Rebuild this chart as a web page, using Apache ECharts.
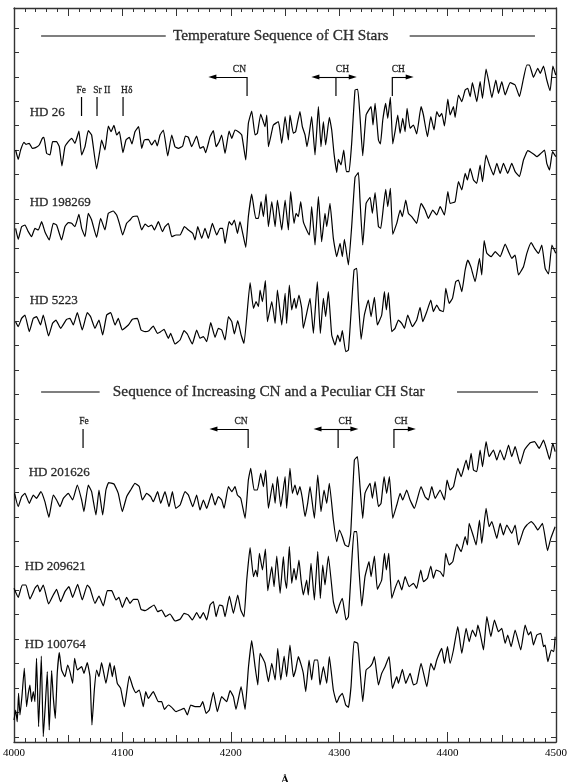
<!DOCTYPE html>
<html><head><meta charset="utf-8">
<style>html,body{margin:0;padding:0;background:#fff}#c{width:570px;height:782px}</style>
<script src="https://cdn.jsdelivr.net/npm/echarts@6/dist/echarts.min.js"></script>
</head><body><div id="c"></div>
<script>
// Each spectrum: [wavelength in angstrom, relative flux (stacked, arbitrary units)]
const hd26 = [[4001.5,1776],[4003.9,1748],[4006.1,1776],[4009.2,1799],[4011,1793],[4014.1,1796],[4016.8,1781],[4019.9,1783],[4023.3,1791],[4026.1,1811],[4027.6,1814],[4030.1,1766],[4033.2,1761],[4035.6,1801],[4039.3,1801],[4041.8,1786],[4044.2,1728],[4047,1786],[4050.1,1801],[4053.2,1811],[4056.2,1796],[4059.9,1833],[4062.4,1761],[4065.5,1786],[4068.5,1834],[4071.6,1821],[4076.2,1719],[4079.3,1776],[4080.8,1806],[4083.9,1776],[4087,1848],[4089.5,1831],[4092.2,1850],[4094.7,1821],[4097.2,1831],[4100.5,1768],[4103.3,1806],[4106.4,1814],[4108.8,1794],[4111.6,1831],[4115,1846],[4117.8,1781],[4120.2,1806],[4123.9,1808],[4127,1791],[4130.1,1806],[4132.2,1788],[4134.7,1821],[4137.8,1836],[4141.8,1758],[4145.5,1821],[4148.5,1786],[4151.6,1781],[4155.6,1788],[4158.1,1818],[4160.9,1814],[4163.9,1786],[4168.5,1818],[4171.6,1781],[4174.7,1786],[4176.8,1768],[4180.9,1816],[4183.9,1834],[4186.4,1786],[4189.2,1801],[4191.6,1821],[4194.7,1766],[4198.4,1833],[4200.9,1811],[4203.9,1836],[4207,1831],[4210.1,1821],[4213.8,1746],[4216.2,1856],[4219.3,1893],[4222.4,1821],[4224.5,1826],[4227.6,1884],[4231.6,1846],[4233.2,1881],[4234.7,1786],[4237.8,1831],[4239.3,1851],[4243.9,1861],[4247,1796],[4250.1,1876],[4253.1,1806],[4254.6,1881],[4257.7,1826],[4259.8,1831],[4261.7,1861],[4263.8,1891],[4266,1846],[4268.5,1821],[4270.3,1786],[4272.2,1821],[4274.6,1876],[4277.7,1761],[4280.8,1906],[4283.2,1786],[4285.4,1861],[4287.5,1791],[4290.9,1874],[4293.1,1836],[4295.2,1766],[4297.7,1709],[4299.2,1748],[4301.7,1731],[4304.2,1776],[4306.6,1711],[4309.1,1711],[4311.5,1796],[4314.6,1956],[4317.1,1958],[4319.2,1876],[4321.7,1759],[4324.8,1881],[4329.4,1906],[4331.2,1851],[4333.1,1916],[4336.2,1806],[4338,1794],[4340.2,1866],[4342.9,1916],[4344.8,1871],[4347.2,1934],[4349.4,1794],[4351.5,1831],[4354,1881],[4356.2,1826],[4358.6,1871],[4360.8,1831],[4362.6,1901],[4365.4,1841],[4368.5,1851],[4371.5,1824],[4375.5,1906],[4377.7,1881],[4381.4,1816],[4384.5,1876],[4387.5,1836],[4390,1891],[4392.5,1876],[4394.6,1886],[4397.1,1848],[4400.2,1929],[4402.3,1881],[4405.4,1906],[4406.9,1874],[4410,1941],[4413.1,1921],[4416.2,1956],[4418.6,1961],[4420.8,1936],[4422.9,1978],[4426.9,1921],[4430,1981],[4432.2,1931],[4435.5,2019],[4438.3,1976],[4440.8,1933],[4444.5,1986],[4446.9,1946],[4450,1981],[4453.1,1941],[4457.7,1978],[4462.3,1971],[4466.3,1936],[4470,1991],[4473.1,2031],[4475.5,2031],[4479.2,1994],[4483.2,2021],[4485.4,2006],[4488.5,2028],[4491.5,1986],[4494.6,1954],[4497.1,2028],[4499.8,2001]];
const hd198269 = [[4001.5,1541],[4003.9,1508],[4007,1546],[4010.1,1551],[4013.2,1531],[4016.2,1516],[4019.3,1541],[4022.4,1536],[4025.5,1561],[4028.5,1531],[4032.5,1506],[4036.2,1556],[4039.3,1551],[4043.9,1506],[4047,1546],[4050.1,1558],[4053.2,1556],[4056.2,1546],[4059.9,1583],[4062.4,1541],[4065.5,1516],[4068.5,1586],[4071.6,1566],[4076.2,1514],[4079.9,1571],[4083.9,1536],[4087,1586],[4091.6,1593],[4094.7,1581],[4097.2,1556],[4100.2,1521],[4103.9,1556],[4107,1566],[4109.5,1576],[4113.8,1578],[4117.8,1536],[4120.9,1554],[4123.9,1546],[4127,1551],[4129.5,1536],[4133.2,1561],[4136.9,1531],[4139.3,1546],[4142.4,1556],[4145.5,1516],[4149.5,1521],[4153.2,1521],[4157.2,1546],[4160.9,1536],[4164.9,1526],[4167,1506],[4169.5,1546],[4173.2,1511],[4176.2,1541],[4179.3,1511],[4183,1556],[4187,1521],[4190.1,1541],[4192.5,1541],[4194.7,1496],[4198.4,1561],[4200.9,1551],[4203.3,1566],[4206.1,1526],[4208.5,1561],[4211,1526],[4213.8,1484],[4216.2,1576],[4219.3,1644],[4223,1571],[4225.5,1571],[4227.9,1621],[4230.1,1576],[4232.5,1644],[4234.7,1546],[4237.8,1621],[4240.9,1546],[4243,1626],[4247,1536],[4250.1,1626],[4253.1,1536],[4255.2,1651],[4258.3,1556],[4260.2,1586],[4262.3,1576],[4264.5,1621],[4266.9,1561],[4270,1536],[4272.5,1521],[4274.6,1606],[4277.7,1491],[4280.8,1636],[4283.8,1501],[4286.9,1586],[4288.5,1546],[4291.5,1616],[4294.6,1511],[4297.7,1456],[4300.8,1496],[4302.9,1456],[4304.8,1508],[4308.5,1431],[4311.5,1546],[4314.6,1694],[4317.7,1708],[4319.2,1626],[4321.7,1491],[4324.8,1616],[4328.5,1634],[4330.6,1586],[4333.1,1648],[4336.2,1546],[4338.3,1541],[4340.8,1606],[4342.9,1658],[4344.8,1606],[4347.2,1661],[4349.4,1523],[4353.1,1556],[4356.2,1596],[4358.3,1576],[4361.4,1626],[4363.8,1586],[4366.9,1576],[4371.5,1556],[4375.5,1616],[4379.2,1596],[4382.3,1571],[4386.3,1596],[4390,1581],[4393.1,1606],[4397.1,1581],[4400.2,1651],[4402.3,1616],[4406.9,1621],[4410,1681],[4413.1,1656],[4416.2,1706],[4418.3,1686],[4420.8,1721],[4423.9,1686],[4426.9,1676],[4430,1731],[4432.2,1681],[4435.5,1761],[4438.6,1731],[4442.3,1701],[4445.4,1736],[4448.5,1706],[4451.5,1736],[4455.5,1706],[4459.2,1736],[4462.3,1711],[4466.3,1696],[4470,1746],[4474,1774],[4479.2,1764],[4482.3,1756],[4485.4,1764],[4489.4,1776],[4491.5,1736],[4494,1716],[4496.8,1771],[4499.8,1756]];
const hd5223 = [[4001.5,1261],[4003.9,1246],[4007,1271],[4010.1,1281],[4014.1,1231],[4017.8,1271],[4020.8,1276],[4024.5,1251],[4027,1281],[4031.9,1218],[4035.6,1256],[4038.7,1266],[4043,1241],[4048.5,1268],[4051.6,1271],[4054.7,1251],[4058.4,1288],[4063,1236],[4067.6,1288],[4070.7,1276],[4074.7,1241],[4078.4,1266],[4081.8,1221],[4085.5,1281],[4089.2,1288],[4093.2,1251],[4096.2,1271],[4099.9,1236],[4105.5,1251],[4109.2,1268],[4113.8,1271],[4117.2,1236],[4120.9,1231],[4124.5,1234],[4128.5,1248],[4132.2,1226],[4135.3,1231],[4138.4,1238],[4142.4,1211],[4144.5,1226],[4148.5,1194],[4153.2,1206],[4156.9,1234],[4159.9,1224],[4164.5,1194],[4168.5,1236],[4171.6,1211],[4174.7,1216],[4177.8,1201],[4181.5,1258],[4185.5,1214],[4188.5,1241],[4191.6,1236],[4194.7,1206],[4197.8,1276],[4200.9,1261],[4203.3,1224],[4206.4,1264],[4209.5,1221],[4212.2,1196],[4217.8,1378],[4220.9,1301],[4223.3,1321],[4225.5,1306],[4227,1356],[4229.2,1321],[4231.9,1384],[4233.8,1261],[4237.8,1321],[4240.9,1256],[4243,1356],[4247,1251],[4250.1,1346],[4251.5,1256],[4254,1371],[4256.2,1296],[4258.6,1331],[4260.2,1301],[4262.9,1341],[4265.4,1301],[4266.9,1241],[4270,1286],[4273.1,1331],[4276.2,1226],[4279.8,1381],[4282.6,1226],[4285.4,1331],[4287.5,1276],[4290,1351],[4293.1,1221],[4296.2,1191],[4298.6,1221],[4300.8,1201],[4302.9,1234],[4306,1171],[4308.5,1176],[4311.5,1316],[4313.7,1416],[4316.2,1421],[4317.7,1326],[4320.2,1208],[4323.2,1281],[4326.9,1326],[4329.4,1276],[4332.5,1334],[4335.2,1251],[4339.2,1281],[4341.7,1351],[4343.5,1296],[4345.4,1348],[4348.5,1231],[4351.5,1241],[4354.6,1266],[4357.7,1256],[4360.2,1241],[4363.2,1281],[4367.5,1246],[4371.5,1266],[4374.6,1304],[4377.1,1261],[4380.8,1291],[4384.5,1326],[4386.9,1291],[4390,1311],[4392.5,1296],[4396.2,1291],[4398.3,1361],[4401.4,1316],[4404.5,1331],[4407.5,1381],[4410,1386],[4413.1,1351],[4416.2,1416],[4418.6,1446],[4421.4,1426],[4425.4,1381],[4429.4,1451],[4431.5,1401],[4433.7,1504],[4436.2,1466],[4440.2,1456],[4443.9,1471],[4448.5,1456],[4453.1,1494],[4456.2,1471],[4459.2,1451],[4462.3,1461],[4465.4,1401],[4470,1426],[4473.1,1466],[4477.1,1498],[4480.2,1481],[4483.9,1466],[4486.9,1491],[4490,1421],[4493.1,1404],[4496.2,1491],[4499.8,1466]];
const hd201626 = [[4000.5,746],[4003.9,706],[4007,736],[4010.1,746],[4014.1,716],[4017.8,741],[4020.8,731],[4024.8,751],[4028.5,721],[4032.2,674],[4036.2,741],[4039.3,726],[4042.4,706],[4045.5,731],[4050.1,746],[4054.1,726],[4058.4,771],[4062.4,726],[4064.5,691],[4068.5,771],[4071.6,751],[4075.6,681],[4078.4,756],[4081.8,681],[4084.8,756],[4087.3,778],[4092.2,774],[4096.2,746],[4099.9,691],[4103.9,736],[4107.6,756],[4111.6,776],[4115.6,766],[4118.4,726],[4122.4,746],[4126.1,736],[4128.5,721],[4132.5,751],[4135.3,716],[4139.3,751],[4143,706],[4146.1,751],[4149.2,701],[4153.2,711],[4157.8,751],[4160.9,741],[4164.9,706],[4168.5,741],[4171.6,696],[4174.7,726],[4177.8,701],[4182.4,746],[4185.5,711],[4188.5,736],[4191.6,726],[4193.8,701],[4197.8,766],[4200.9,751],[4203.9,766],[4206.1,741],[4209.2,731],[4213.2,671],[4216.2,786],[4218.4,821],[4221.5,756],[4224.5,756],[4227.6,806],[4230.1,766],[4232.2,816],[4234.7,701],[4238.7,776],[4240.9,716],[4243,796],[4246.1,706],[4250.1,796],[4251.5,701],[4254.6,821],[4256.8,746],[4259.2,771],[4261.4,741],[4263.8,766],[4266,731],[4268.5,676],[4270.9,716],[4273.1,766],[4277.1,671],[4280.2,801],[4283.2,691],[4286,756],[4288.5,716],[4290.9,776],[4294.6,666],[4297.7,601],[4300.2,636],[4302.9,616],[4305.4,591],[4308.5,586],[4310.6,626],[4314,846],[4316.8,856],[4319.2,766],[4321.7,671],[4323.8,746],[4328.5,776],[4330.6,731],[4333.1,781],[4336.2,706],[4338.6,716],[4341.4,796],[4343.8,746],[4346.3,796],[4349.4,671],[4353.1,711],[4356.2,746],[4358.6,726],[4362.3,756],[4365.4,726],[4369.4,701],[4375.5,766],[4379.2,736],[4382.3,726],[4385.4,766],[4388.5,731],[4393.1,756],[4397.1,726],[4399.5,786],[4402.3,756],[4405.4,766],[4409.4,821],[4412.5,796],[4417.1,846],[4419.2,816],[4421.7,866],[4423.9,816],[4426.9,811],[4430,876],[4432.2,826],[4435.5,901],[4438.3,856],[4442.3,876],[4445.4,846],[4448.5,876],[4452.2,846],[4456.2,891],[4459.2,856],[4462.3,886],[4466.9,834],[4470.9,876],[4476.2,898],[4480.2,901],[4484.5,881],[4488.5,906],[4491.5,876],[4494,848],[4497.1,896],[4499.2,871]];
const hd209621 = [[4000,461],[4003.9,434],[4007.6,471],[4011,471],[4014.7,429],[4019.3,461],[4021.8,471],[4023.9,451],[4027,471],[4031.9,414],[4036.2,441],[4039.3,458],[4043,421],[4047,451],[4050.7,466],[4054.1,434],[4058.7,473],[4063,426],[4067.6,471],[4070.1,461],[4074.7,416],[4078.4,438],[4082.4,408],[4086.1,454],[4090.1,454],[4094.1,426],[4096.8,434],[4099.9,404],[4103.9,434],[4107,416],[4110.1,428],[4114.1,428],[4117.2,398],[4120.9,394],[4124.5,401],[4129.2,411],[4132.5,391],[4136.2,396],[4139.9,376],[4143.9,384],[4148.5,363],[4153.2,368],[4156.9,386],[4160.9,381],[4164.5,366],[4168.5,388],[4171.6,371],[4174.7,388],[4177.8,366],[4180.9,411],[4183.9,421],[4186.4,376],[4189.5,411],[4192.5,408],[4194.7,376],[4198.7,438],[4202.4,386],[4206.4,441],[4209.2,396],[4212.2,376],[4214.7,486],[4217.8,583],[4220.9,496],[4223,516],[4224.5,496],[4226.4,566],[4229.2,516],[4231.9,579],[4234.1,454],[4237.8,526],[4239.9,466],[4242.4,558],[4245.5,446],[4248.5,556],[4250.1,486],[4251.5,461],[4254,586],[4256.2,476],[4258.3,521],[4260.2,486],[4262.9,546],[4264.8,486],[4266.9,441],[4270,486],[4271.5,441],[4274,536],[4277.1,426],[4280.2,571],[4282.6,431],[4284.8,531],[4286.9,471],[4290,558],[4294.6,421],[4297.7,386],[4300.2,411],[4302.9,431],[4306.3,366],[4308.5,376],[4311.5,536],[4313.7,631],[4316.2,631],[4318.3,516],[4320.8,408],[4323.8,496],[4327.5,541],[4329.4,496],[4332.5,558],[4335.2,458],[4339.2,486],[4341.7,566],[4343.5,516],[4345.7,566],[4348.5,431],[4351.5,461],[4354.6,486],[4357.7,456],[4360.8,496],[4364.5,466],[4368.5,476],[4371.5,461],[4375.2,516],[4377.7,481],[4381.4,491],[4384.5,528],[4386.9,491],[4389.4,516],[4393.1,511],[4396.2,496],[4398.3,566],[4401.4,531],[4404.8,541],[4408.5,594],[4412.5,571],[4416.2,616],[4418.3,591],[4419.9,656],[4423.9,616],[4426.3,591],[4429.4,666],[4431.5,596],[4435.5,701],[4438.3,646],[4440.8,661],[4445.4,611],[4448.5,656],[4451.5,621],[4454.6,651],[4459.2,626],[4462.3,651],[4465.4,591],[4470,636],[4473.1,651],[4477.1,661],[4480.2,651],[4483.2,636],[4487.5,656],[4492.2,574],[4495.2,611],[4499.2,646]];
const hd100764 = [[4000,66],[4001.5,96],[4003,61],[4004.2,146],[4005.5,81],[4007.3,136],[4009.5,221],[4011.6,106],[4013.2,146],[4014.7,171],[4016.2,121],[4017.8,151],[4019.3,121],[4020.8,251],[4022.7,46],[4025.2,258],[4027,16],[4028.8,106],[4030.7,211],[4032.5,36],[4034.7,214],[4036.2,136],[4038.1,71],[4039.9,206],[4041.8,268],[4043.9,216],[4047,196],[4049.5,231],[4051.6,211],[4054.1,176],[4055.9,251],[4058.4,216],[4062.4,226],[4064.5,206],[4067.6,238],[4070.1,196],[4071.9,51],[4074.1,156],[4076.2,216],[4078.4,196],[4080.8,238],[4084.8,176],[4088.5,238],[4090.7,196],[4092.5,229],[4095.3,176],[4098.4,161],[4101.8,106],[4106.4,198],[4109.5,166],[4112.5,148],[4115.6,156],[4119.3,106],[4121.5,151],[4123.9,131],[4128.5,151],[4133.2,121],[4136.2,121],[4138.7,98],[4142.4,111],[4145.5,104],[4149.5,91],[4153.2,96],[4156.9,101],[4159.9,81],[4163,111],[4167,106],[4171.6,106],[4174.1,121],[4177.2,86],[4180.2,96],[4183.9,149],[4187.6,91],[4191.6,136],[4196.2,121],[4199.3,154],[4202.4,136],[4204.8,98],[4209.5,166],[4213.2,98],[4216.2,221],[4219.3,304],[4222.4,226],[4224.9,171],[4227,266],[4231.6,236],[4234.7,181],[4237.8,236],[4240.9,186],[4243.3,281],[4246.1,186],[4249.2,258],[4251.5,196],[4254.6,291],[4257.7,196],[4259.8,216],[4262.3,256],[4264.5,236],[4266.9,206],[4269.1,151],[4272.2,246],[4274.6,186],[4277.1,246],[4280.2,246],[4282.3,171],[4285.4,226],[4288.5,176],[4290.9,256],[4294.6,156],[4297.7,118],[4300.2,136],[4302.9,146],[4306,111],[4308.5,104],[4310.9,166],[4313.7,301],[4317.1,296],[4319.2,216],[4321.7,121],[4324.8,216],[4328.5,226],[4330.6,236],[4332.5,256],[4336.2,171],[4339.2,206],[4342.3,226],[4346,256],[4349.1,161],[4353.1,196],[4354.6,176],[4358.3,218],[4361.4,176],[4365.4,206],[4368.5,171],[4371.5,176],[4375.5,236],[4380.8,166],[4384.5,236],[4387.5,216],[4390,246],[4394.6,281],[4397.1,236],[4399.9,286],[4402.3,236],[4405.4,276],[4409.4,346],[4413.1,266],[4417.1,341],[4419.9,301],[4422.9,336],[4426,316],[4427.9,351],[4430,326],[4433.1,276],[4436.2,376],[4439.9,316],[4443.2,366],[4446.9,331],[4450,341],[4453.1,296],[4455.5,321],[4458.6,286],[4462.3,336],[4467.5,276],[4471.5,351],[4474.6,321],[4476.8,331],[4479.2,291],[4482.3,321],[4486,326],[4488.5,286],[4490,291],[4492.5,241],[4495.6,276],[4498,271],[4499.2,316]];

const spectra = [hd26, hd198269, hd5223, hd201626, hd209621, hd100764];
const yTicks = [15,88,162,235,308,382,455,528,602,675,749,822,895,969,1042,1115,1189,1262,1335,1409,1482,1555,1629,1702,1775,1849,1922,1995,2069,2142];

// Text: [wave, flux, text, font size, horizontal align]
const titles = [[4246,2118,'Temperature Sequence of CH Stars',15.3,'center'],[4235,1050,'Sequence of Increasing CN and a Peculiar CH Star',15.3,'center']];
const starNames = [[4014.5,1887,'HD 26',13,'left'],[4014.5,1617,'HD 198269',13,'left'],[4014.5,1323,'HD 5223',13,'left'],[4013.5,807,'HD 201626',13,'left'],[4010,525,'HD 209621',13,'left'],[4010,291,'HD 100764',13,'left']];
const featureNames = [[4062,1956,'Fe',9.5,'center'],[4081,1956,'Sr II',9.5,'center'],[4104,1956,'Hδ',9.5,'center'],[4208,2019,'CN',9.5,'center'],[4303,2019,'CH',9.5,'center'],[4354.5,2019,'CH',9.5,'center'],[4064.5,963,'Fe',9.5,'center'],[4209.5,963,'CN',9.5,'center'],[4305.5,963,'CH',9.5,'center'],[4357,963,'CH',9.5,'center']];

// Rule segments: [wave1, flux1, wave2, flux2]
const rules = [[4025,2118,4140,2118],[4365,2118,4480.6,2118],[4025,1050,4079,1050],[4408.7,1050,4483.4,1050],
  [4062.3,1935,4062.3,1878],[4076.6,1935,4076.6,1878],[4100.6,1935,4100.6,1878],[4215,1995,4215,1938],[4297,1995,4297,1938],[4349,1995,4349,1938],
  [4063.7,939,4063.7,882],[4216,939,4216,882],[4299,939,4299,882],[4350.5,939,4350.5,882]];
// Arrows: [wave from, flux, wave to]
const arrows = [[4215,1995,4183],[4297,1995,4278],[4297,1995,4312.5],[4349,1995,4365],[4216,939,4184],[4299,939,4280],[4299,939,4314],[4350.5,939,4367]];

const FONT = '"Liberation Serif","Times New Roman",serif';
const INK = '#000';
const series = spectra.map(d => ({type:'line',data:d,showSymbol:false,symbol:'none',silent:true,smooth:0.12,
  lineStyle:{color:INK,width:1.2,join:'round'},xAxisIndex:0,yAxisIndex:0,z:3}));
rules.forEach(r => series.push({type:'line',data:[[r[0],r[1]],[r[2],r[3]]],showSymbol:false,symbol:'none',silent:true,
  lineStyle:{color:INK,width:1.2},xAxisIndex:0,yAxisIndex:0}));
series.push({type:'line',data:[],xAxisIndex:0,yAxisIndex:0,silent:true,
  markLine:{silent:true,animation:false,symbol:['none','triangle'],symbolSize:[5,8],label:{show:false},
    lineStyle:{color:INK,width:1.1,type:'solid'},
    data:arrows.map(a=>[{coord:[a[0],a[1]]},{coord:[a[2],a[1]]}])}});
const texts = titles.concat(starNames,featureNames);
series.push({type:'scatter',symbolSize:0,silent:true,xAxisIndex:0,yAxisIndex:0,
  data:texts.map(t=>({value:[t[0],t[1]],
    label:{show:true,position:'inside',formatter:t[2],fontFamily:FONT,fontSize:t[3],color:'#000',align:t[4],verticalAlign:'middle',
      textBorderColor:'#000',textBorderWidth:0.3}}))});

const axLine = {show:true,onZero:false,lineStyle:{color:'#333',width:1.4}};
const tick = (len)=>({show:true,inside:true,length:len,lineStyle:{color:'#333',width:1}});
const chart = echarts.init(document.getElementById('c'),null,{renderer:'canvas'});
chart.setOption({animation:false,backgroundColor:'#fff',
  grid:{left:14,top:8,width:542,height:734,containLabel:false,outerBoundsMode:'none'},
  xAxis:[
    {type:'value',position:'bottom',min:4000,max:4500,interval:100,axisLine:axLine,splitLine:{show:false},
      axisTick:tick(10),minorTick:{show:true,splitNumber:10,length:4,lineStyle:{color:'#333',width:1}},minorSplitLine:{show:false},
      axisLabel:{show:true,margin:6,formatter:v=>String(v),fontFamily:FONT,fontSize:11,color:'#000',showMinLabel:true,showMaxLabel:true,hideOverlap:false},
      name:'Å',nameLocation:'middle',nameGap:33,nameTextStyle:{fontFamily:FONT,fontSize:11,color:'#000',fontWeight:'bold'}},
    {type:'value',position:'top',min:4000,max:4500,interval:50,axisLine:axLine,splitLine:{show:false},
      axisTick:tick(8),minorTick:{show:true,splitNumber:5,length:4,lineStyle:{color:'#333',width:1}},axisLabel:{show:false}},
    {type:'value',position:'bottom',min:4000,max:4500,interval:50,axisLine:{show:false,onZero:false},splitLine:{show:false},
      axisTick:tick(7),axisLabel:{show:false}}
  ],
  yAxis:[
    {type:'value',position:'left',min:0,max:2202,axisLine:axLine,splitLine:{show:false},
      axisTick:Object.assign(tick(5),{customValues:yTicks}),axisLabel:{show:false}},
    {type:'value',position:'right',min:0,max:2202,axisLine:axLine,splitLine:{show:false},
      axisTick:Object.assign(tick(5),{customValues:yTicks}),axisLabel:{show:false}}
  ],
  series:series});
</script></body></html>
